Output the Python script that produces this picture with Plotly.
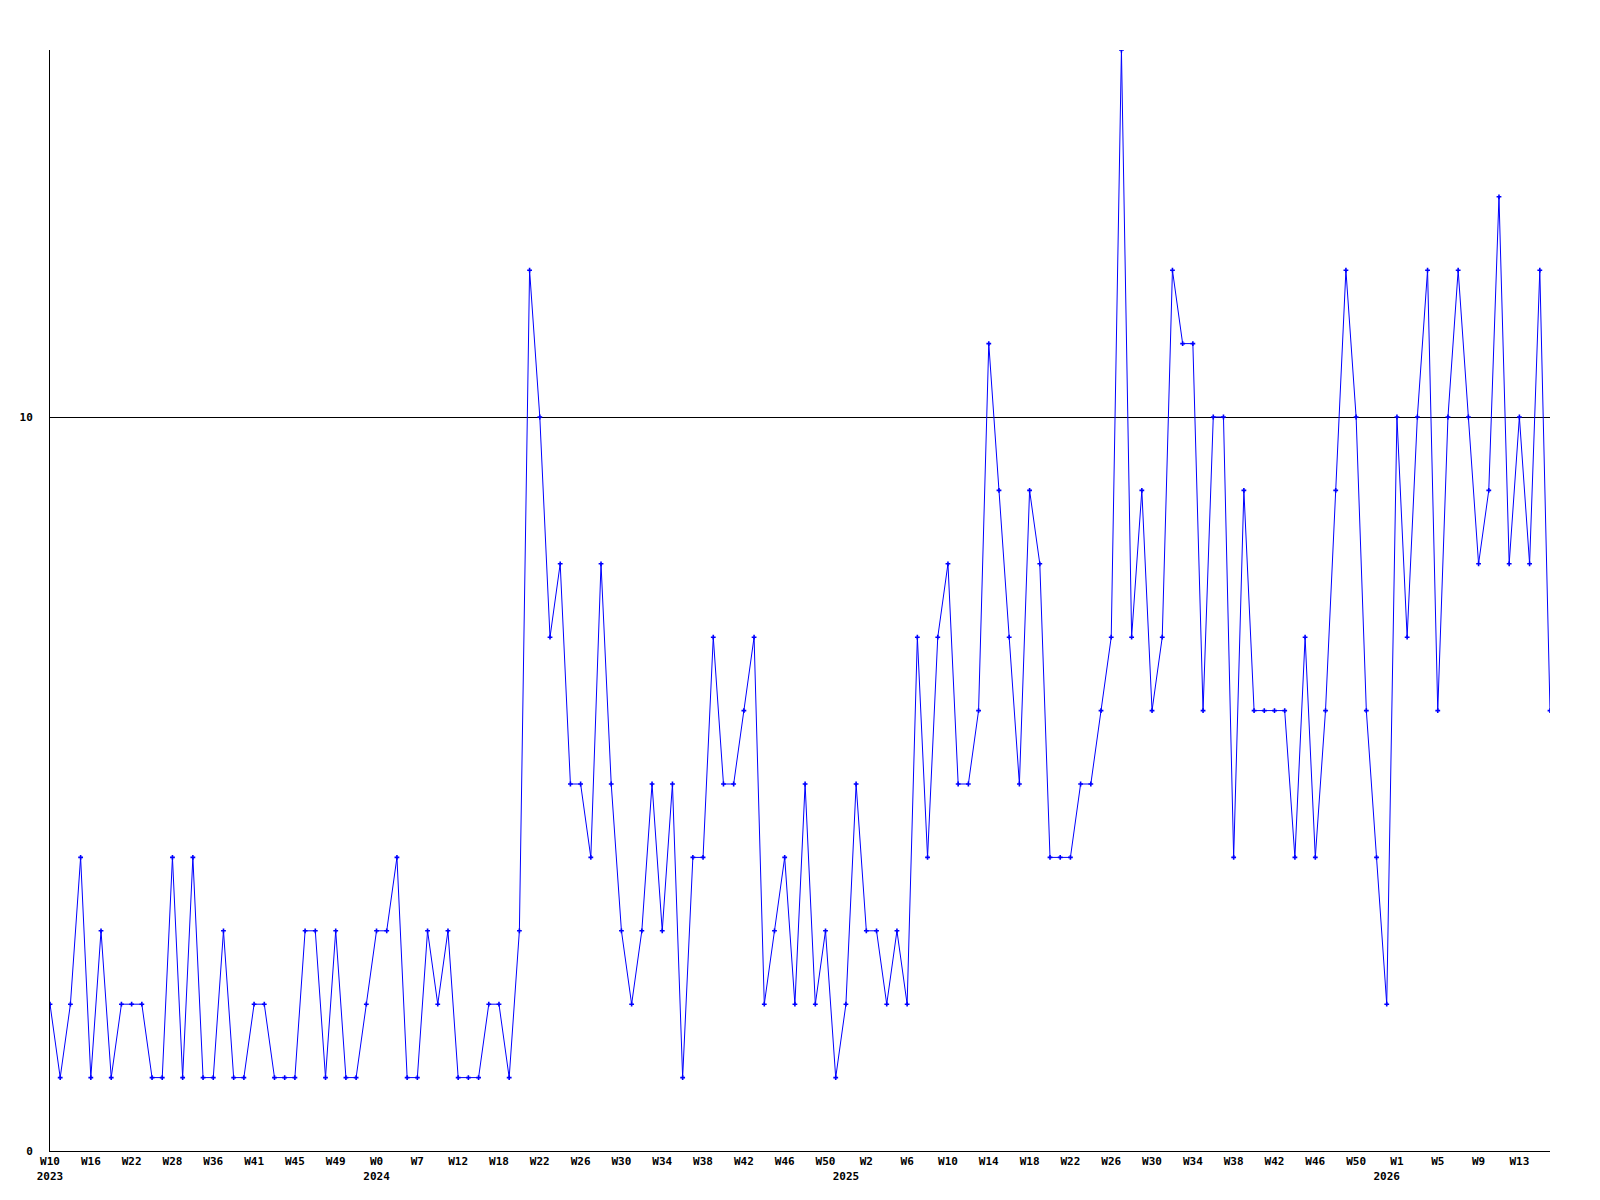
import plotly.graph_objects as go

# Weekly counts, one value per plotted week (148 weeks, 2023 W10 .. 2026 ~W15)
values = [
    2, 1, 2, 4, 1, 3, 1, 2, 2, 2, 1, 1, 4, 1, 4, 1, 1, 3, 1, 1,
    2, 2, 1, 1, 1, 3, 3, 1, 3, 1, 1, 2, 3, 3, 4, 1, 1, 3, 2, 3,
    1, 1, 1, 2, 2, 1, 3,
    12, 10, 7, 8, 5, 5, 4, 8, 5, 3, 2, 3, 5, 3, 5, 1, 4, 4, 7, 5,
    5, 6, 7, 2, 3, 4, 2, 5, 2, 3, 1, 2, 5, 3, 3, 2, 3, 2, 7, 4, 7,
    8, 5, 5, 6, 11, 9, 7, 5, 9, 8, 4, 4, 4, 5, 5, 6, 7,
    15, 7, 9, 6, 7, 12, 11, 11, 6, 10, 10, 4, 9, 6, 6, 6, 6, 4, 7, 4, 6,
    9, 12, 10, 6, 4, 2, 10, 7, 10, 12, 6, 10, 12, 10, 8, 9, 13, 8, 10, 8, 12, 6,
]

# Week labels shown under every 4th point
week_labels = [
    "W10", "W16", "W22", "W28", "W36", "W41", "W45", "W49", "W0", "W7",
    "W12", "W18", "W22", "W26", "W30", "W34", "W38", "W42", "W46", "W50",
    "W2", "W6", "W10", "W14", "W18", "W22", "W26", "W30", "W34", "W38",
    "W42", "W46", "W50", "W1", "W5", "W9", "W13",
]
label_step = 4

# Year labels, at the first plotted week of each year (point index)
year_points = [0, 32, 78, 131]
year_labels = ["2023", "2024", "2025", "2026"]

y_ticks = [0, 10]

x = list(range(len(values)))

tick_map = {}
for i, lab in enumerate(week_labels):
    tick_map[i * label_step] = lab
for p, yl in zip(year_points, year_labels):
    tick_map[p] = tick_map.get(p, "") + "<br>" + yl
tickvals = sorted(tick_map)
ticktext = [tick_map[t] for t in tickvals]

fig = go.Figure()
fig.add_trace(go.Scatter(
    x=x, y=values, mode="lines+markers",
    line=dict(color="#0000ff", width=1),
    marker=dict(symbol="cross", size=4, color="#0000ff"),
    showlegend=False, hoverinfo="x+y",
))

font = dict(family="DejaVu Sans Mono", size=11, color="black", weight="bold")

fig.update_layout(
    width=1600, height=1200, autosize=False,
    margin=dict(l=50, r=50, t=50, b=49, pad=0),
    paper_bgcolor="white", plot_bgcolor="white",
    xaxis=dict(
        range=[0, len(values) - 1], showline=True, linecolor="black", linewidth=1,
        showgrid=False, zeroline=False, ticks="", tickvals=tickvals, ticktext=ticktext,
        tickfont=font, tickangle=0,
    ),
    yaxis=dict(
        range=[0, 15], showline=True, linecolor="black", linewidth=1,
        showgrid=True, gridcolor="black", gridwidth=1, zeroline=False,
        ticks="", tickvals=y_ticks, ticktext=[str(v) for v in y_ticks],
        tickfont=font, ticklabelstandoff=14,
    ),
)

fig.write_html(
    "out.html",
    config={"displayModeBar": False},
    post_script="document.body.style.margin='0';document.body.style.overflow='hidden';",
)
